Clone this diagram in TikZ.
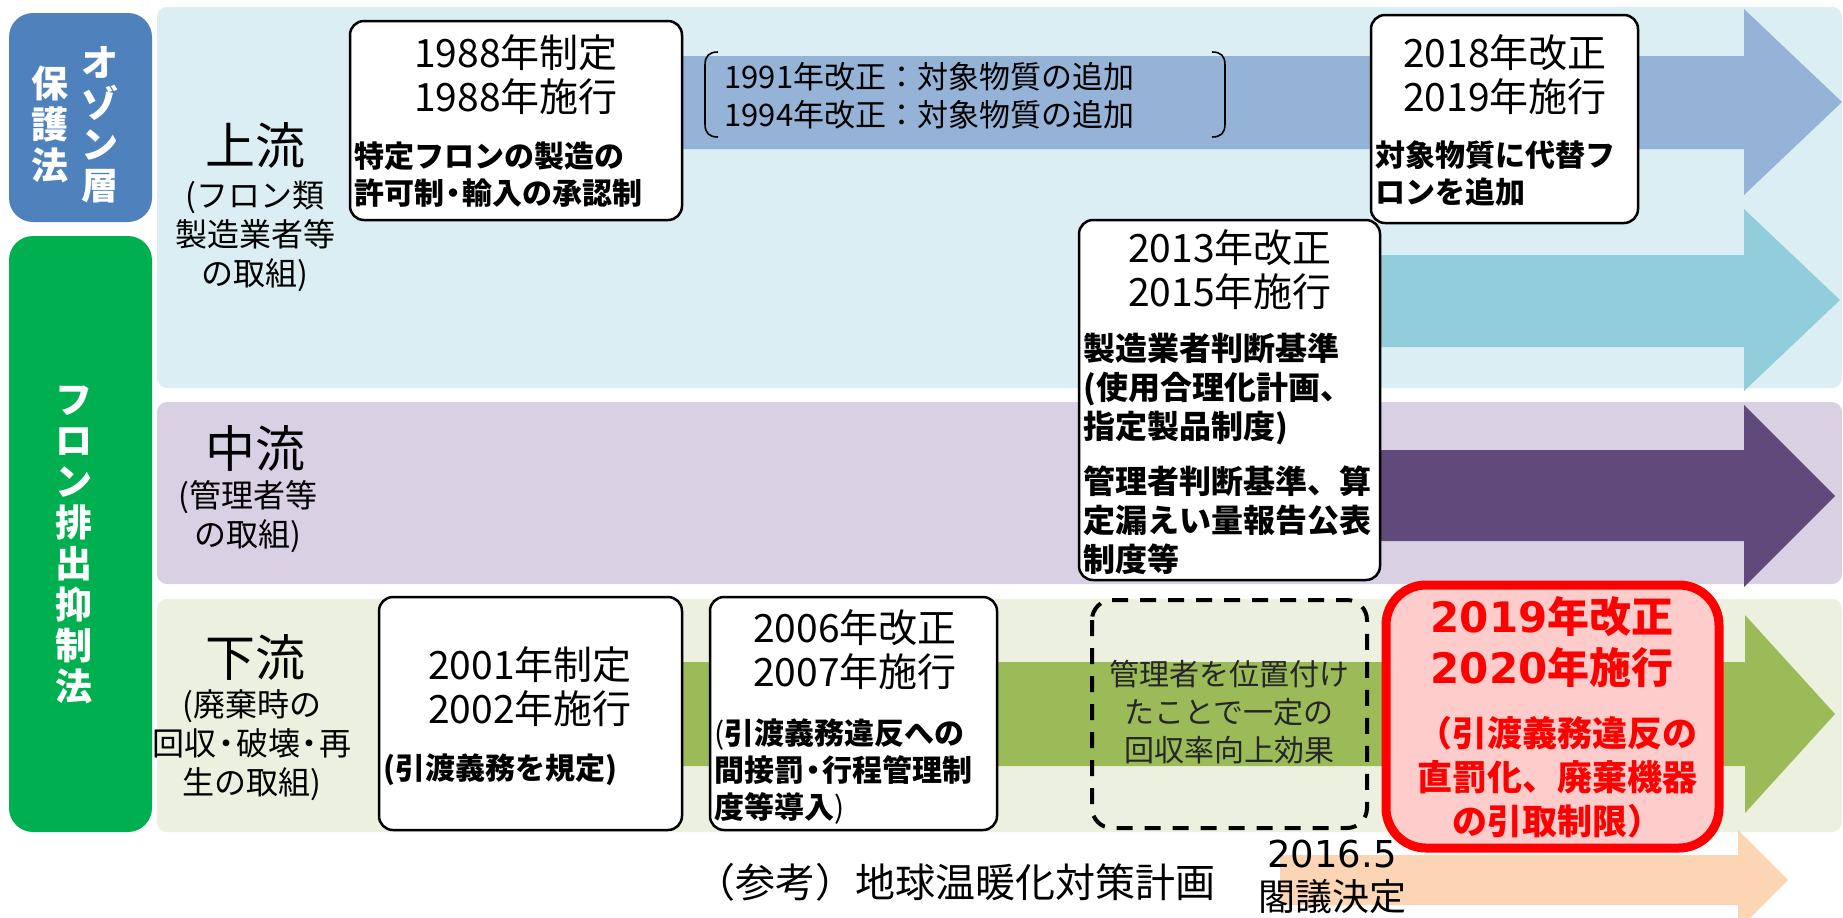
\documentclass[tikz,border=0pt]{standalone}
\usepackage{fontspec}
\setmainfont{Noto Sans CJK JP}
\newfontfamily\digitfont{DejaVu Sans}

\definecolor{ozoneblue}{HTML}{4F81BD}
\definecolor{lawgreen}{HTML}{00B050}
\definecolor{upband}{HTML}{DAEEF3}
\definecolor{midband}{HTML}{DAD0E3}
\definecolor{lowband}{HTML}{EBF1DE}
\definecolor{ozonearrow}{HTML}{95B3D7}
\definecolor{fluoroarrow}{HTML}{92CDDC}
\definecolor{midarrow}{HTML}{604A7B}
\definecolor{lowarrow}{HTML}{9BBB59}
\definecolor{planarrow}{HTML}{FCD5B5}
\definecolor{revfill}{HTML}{FFCCCC}

\newcommand{\midpt}{\hspace{-0.2em}・\hspace{-0.2em}}

\begin{document}
\begin{tikzpicture}[x=0.5pt, y=-0.5pt,
        lawtext/.style={inner sep=0pt, align=center, text=white, font=\bfseries\fontsize{18.5}{20.5}\selectfont},
        flowtext/.style={inner sep=0pt, font=\fontsize{25}{30}\selectfont},
        subtext/.style={inner sep=0pt, align=center, font=\fontsize{16}{19.5}\selectfont},
        yearbox/.style={draw=black, line width=1.25pt, fill=white, rounded corners=7pt},
        yeartext/.style={inner sep=0pt, align=center, font=\fontsize{19.5}{22}\selectfont},
        pointtext/.style={inner sep=0pt, anchor=west, align=left, font=\bfseries\fontsize{15}{18.5}\selectfont},
        notetext/.style={inner sep=0pt, anchor=west, align=left, font=\fontsize{15.5}{19}\selectfont},
        effecttext/.style={inner sep=0pt, align=center, text=black!85, font=\fontsize{15}{19}\selectfont},
        redtext/.style={inner sep=0pt, align=center, text=red, font=\bfseries\fontsize{21}{25.5}\selectfont}]
        \useasboundingbox (0,0) rectangle (1843,917);
        \clip (0,0) rectangle (1843,917);

        \fill[ozoneblue, rounded corners=12pt] (9,13) rectangle (152,222);
        \fill[lawgreen, rounded corners=12pt] (9,236) rectangle (152,832);
        \fill[upband, rounded corners=5pt] (157,7) rectangle (1842,388);
        \fill[midband, rounded corners=5pt] (157,402) rectangle (1842,584);
        \fill[lowband, rounded corners=5pt] (157,599) rectangle (1842,832);

        \fill[ozonearrow] (520,56) -- (1744,56) -- (1744,9) -- (1842,102) -- (1744,195) -- (1744,149) -- (520,149) -- cycle;
        \fill[fluoroarrow] (1200,255) -- (1744,255) -- (1744,209) -- (1840,300) -- (1744,391) -- (1744,347) -- (1200,347) -- cycle;
        \fill[midarrow] (1200,450) -- (1744,450) -- (1744,405) -- (1835,496) -- (1744,587) -- (1744,541) -- (1200,541) -- cycle;
        \fill[lowarrow] (530,662) -- (1745,662) -- (1745,615) -- (1835,714) -- (1745,813) -- (1745,766) -- (530,766) -- cycle;
        \fill[planarrow] (1280,855) -- (1738,855) -- (1738,830) -- (1788,880) -- (1738,930) -- (1738,905) -- (1280,905) -- cycle;

        \node[lawtext] (ozonecol) at (100,125) {オ\\ゾ\\ン\\層};
        \node[lawtext] (protcol) at (50,124) {保\\護\\法};
        \node[lawtext] (emitcol) at (74,545) {フ\\ロ\\ン\\排\\出\\抑\\制\\法};

        \node[flowtext] (upper) at (255,145) {上流};
        \node[subtext] (uppersub) at (255,236) {(フロン類\\製造業者等\\の取組)};
        \node[flowtext] (middle) at (255,448) {中流};
        \node[subtext] (middlesub) at (248,517) {(管理者等\\の取組)};
        \node[flowtext] (lower) at (255,657) {下流};
        \node[subtext] (lowersub) at (252,745) {(廃棄時の\\回収\midpt 破壊\midpt 再\\生の取組)};

        \draw[line width=0.8pt] (718,52) .. controls (709,52) and (705,56) .. (705,65) -- (705,124) .. controls (705,133) and (709,137) .. (718,137);
        \draw[line width=0.8pt] (1212,52) .. controls (1221,52) and (1225,56) .. (1225,65) -- (1225,124) .. controls (1225,133) and (1221,137) .. (1212,137);
        \node[notetext] (amend9194) at (724,96) {1991年改正：対象物質の追加\\1994年改正：対象物質の追加};

        \draw[yearbox] (350,21) rectangle (682,220);
        \node[yeartext] (enact88) at (516,75) {1988年制定\\1988年施行};
        \node[pointtext] (point88) at (354,175) {特定フロンの製造の\\許可制\midpt 輸入の承認制};

        \draw[yearbox] (1371,15) rectangle (1638,223);
        \node[yeartext] (enact18) at (1505,75) {2018年改正\\2019年施行};
        \node[pointtext] (point18) at (1375,174) {対象物質に代替フ\\ロンを追加};

        \draw[yearbox] (1079,220) rectangle (1380,580);
        \node[yeartext] (enact13) at (1230,270) {2013年改正\\2015年施行};
        \node[pointtext, font=\bfseries\fontsize{16}{19.5}\selectfont] (maker13) at (1083,389) {製造業者判断基準\\(使用合理化計画、\\指定製品制度)};
        \node[pointtext, font=\bfseries\fontsize{16}{19.5}\selectfont] (admin13) at (1083,520) {管理者判断基準、算\\定漏えい量報告公表\\制度等};

        \draw[yearbox] (379,597) rectangle (682,830);
        \node[yeartext] (enact01) at (530,687) {2001年制定\\2002年施行};
        \node[pointtext] (point01) at (383,770) {(引渡義務を規定)};

        \draw[yearbox] (710,597) rectangle (997,830);
        \node[yeartext] (enact06) at (855,650) {2006年改正\\2007年施行};
        \node[pointtext] (point06) at (714,772) {\mdseries(\bfseries 引渡義務違反への\\間接罰\midpt 行程管理制\\度等導入\mdseries)};

        \draw[line width=2pt, dash pattern=on 8pt off 6pt, rounded corners=10pt] (1092,600) rectangle (1367,828);
        \node[effecttext] (effect) at (1229,712) {管理者を位置付け\\たことで一定の\\回収率向上効果};

        \draw[red, line width=4.5pt, fill=revfill, rounded corners=20pt] (1386,585) rectangle (1719,848);
        \node[redtext] (enact19) at (1552,642) {{\digitfont 2019}年改正\\{\digitfont 2020}年施行};
        \node[redtext, font=\bfseries\fontsize{17.5}{22}\selectfont] (point19) at (1557,777) {（引渡義務違反の\\直罰化、廃棄機器\\の引取制限）};

        \node[inner sep=0pt, font=\fontsize{20}{24}\selectfont] (plan) at (955,882) {（参考）地球温暖化対策計画};
        \node[inner sep=0pt, align=center, font=\fontsize{18.5}{21.5}\selectfont] (cabinet) at (1332,877) {{\digitfont 2016.5}\\閣議決定};
\end{tikzpicture}
\end{document}
